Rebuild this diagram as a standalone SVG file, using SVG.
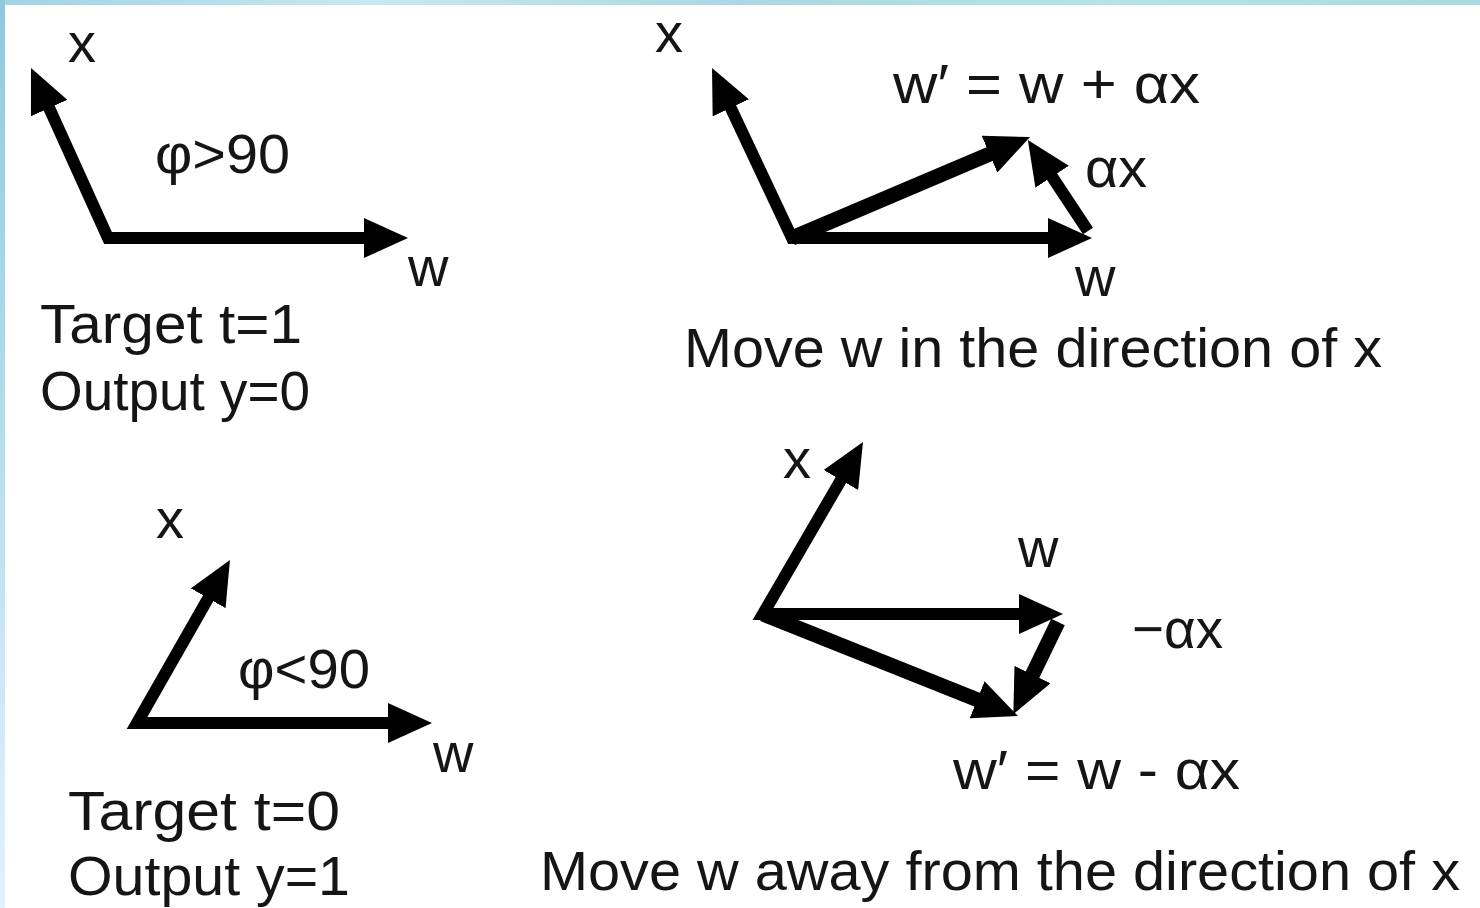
<svg xmlns="http://www.w3.org/2000/svg" width="1480" height="908" viewBox="0 0 1480 908">
  <defs>
    <linearGradient id="topStrip" x1="0" y1="0" x2="1" y2="0">
      <stop offset="0" stop-color="#9fd3e6"/>
      <stop offset="0.25" stop-color="#c6e9f3"/>
      <stop offset="0.5" stop-color="#a9d8e4"/>
      <stop offset="0.75" stop-color="#b4e4ea"/>
      <stop offset="1" stop-color="#a6dbe3"/>
    </linearGradient>
    <linearGradient id="leftStrip" x1="0" y1="0" x2="0" y2="1">
      <stop offset="0" stop-color="#8ec9e0"/>
      <stop offset="0.5" stop-color="#b5def0"/>
      <stop offset="1" stop-color="#e4f2fa"/>
    </linearGradient>
    <marker id="head" markerUnits="userSpaceOnUse" markerWidth="44" markerHeight="40" refX="14" refY="20" orient="auto-start-reverse">
      <path d="M0,0 L44,20 L0,40 Z" fill="#000"/>
    </marker>
    <style>
      .lbl { font-family: "Liberation Sans", Arial, sans-serif; font-size: 56px; fill: #151515; }
      .vec { fill: none; stroke: #000; stroke-width: 12; stroke-linejoin: miter; stroke-linecap: butt; }
      .thick { stroke-width: 15; }
    </style>
  </defs>

  <rect x="0" y="0" width="1480" height="908" fill="#ffffff"/>
  <rect x="0" y="0" width="1480" height="5" fill="url(#topStrip)"/>
  <rect x="0" y="0" width="5" height="908" fill="url(#leftStrip)"/>

  <g id="connectors">
    <!-- top-left -->
    <path class="vec" d="M43.4,95.3 L108,238 L378,238" marker-start="url(#head)" marker-end="url(#head)"/>
    <!-- top-right -->
    <path class="vec" d="M724.8,95.2 L792,238 L1062,238" marker-start="url(#head)" marker-end="url(#head)"/>
    <path class="vec thick" d="M792,238 L1002.4,148.7" marker-end="url(#head)"/>
    <path class="vec" d="M1088,231 L1044.4,165.1" marker-end="url(#head)"/>
    <!-- bottom-left -->
    <path class="vec" d="M215.1,586.1 L137,723 L402,723" marker-start="url(#head)" marker-end="url(#head)"/>
    <!-- bottom-right -->
    <path class="vec" d="M847.9,467.9 L763,614 L1033,614" marker-start="url(#head)" marker-end="url(#head)"/>
    <path class="vec thick" d="M763,614 L990.1,704.9" marker-end="url(#head)"/>
    <path class="vec thick" d="M1058,622 L1026.4,687.2" marker-end="url(#head)"/>
  </g>

  <g id="panel-top-left">
    <text class="lbl" x="68" y="62">x</text>
    <text class="lbl" x="155" y="173" textLength="135" lengthAdjust="spacingAndGlyphs">φ&gt;90</text>
    <text class="lbl" x="408" y="286">w</text>
    <text class="lbl" x="40" y="343" textLength="262" lengthAdjust="spacingAndGlyphs">Target t=1</text>
    <text class="lbl" x="40" y="410" textLength="270" lengthAdjust="spacingAndGlyphs">Output y=0</text>
  </g>

  <g id="panel-top-right">
    <text class="lbl" x="655" y="52">x</text>
    <text class="lbl" x="893" y="103" textLength="307" lengthAdjust="spacingAndGlyphs">w′ = w + αx</text>
    <text class="lbl" x="1085" y="187" textLength="62" lengthAdjust="spacingAndGlyphs">αx</text>
    <text class="lbl" x="1075" y="296">w</text>
    <text class="lbl" x="684" y="367" textLength="698" lengthAdjust="spacingAndGlyphs">Move w in the direction of x</text>
  </g>

  <g id="panel-bottom-left">
    <text class="lbl" x="156" y="538">x</text>
    <text class="lbl" x="238" y="688" textLength="132" lengthAdjust="spacingAndGlyphs">φ&lt;90</text>
    <text class="lbl" x="433" y="772">w</text>
    <text class="lbl" x="68" y="830" textLength="272" lengthAdjust="spacingAndGlyphs">Target t=0</text>
    <text class="lbl" x="68" y="895" textLength="282" lengthAdjust="spacingAndGlyphs">Output y=1</text>
  </g>

  <g id="panel-bottom-right">
    <text class="lbl" x="783" y="478">x</text>
    <text class="lbl" x="1018" y="567">w</text>
    <text class="lbl" x="1132" y="648" textLength="91" lengthAdjust="spacingAndGlyphs">−αx</text>
    <text class="lbl" x="953" y="789" textLength="287" lengthAdjust="spacingAndGlyphs">w′ = w - αx</text>
    <text class="lbl" x="540" y="890" textLength="920" lengthAdjust="spacingAndGlyphs">Move w away from the direction of x</text>
  </g>
</svg>
